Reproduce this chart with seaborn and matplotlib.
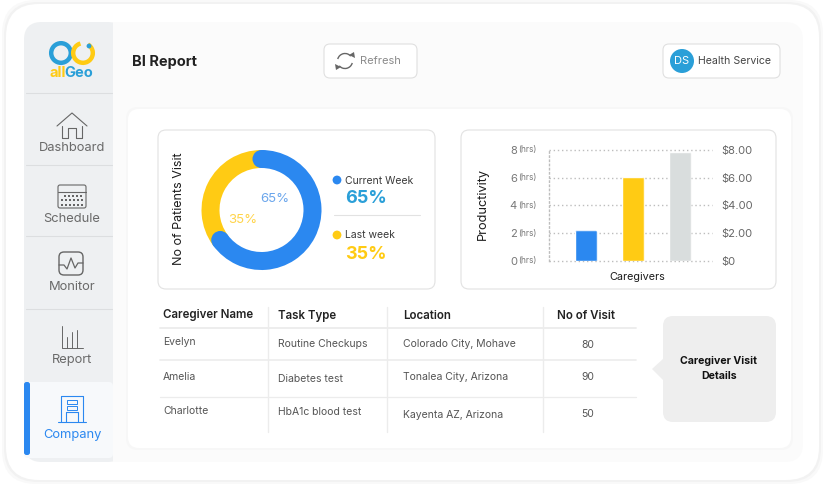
import numpy as np
import matplotlib
matplotlib.use("Agg")
import matplotlib.pyplot as plt
import seaborn as sns
from matplotlib.patches import Arc, Circle, FancyBboxPatch, Polygon, Rectangle

# data
visit_labels = ["Current Week", "Last week"]
visit_share = [65, 35]
caregivers = ["Evelyn", "Amelia", "Charlotte"]
productivity_hours = [2.2, 6.05, 7.85]
hour_ticks = [0, 2, 4, 6, 8]
cost_labels = ["$0", "$2.00", "$4.00", "$6.00", "$8.00"]
table_header = ["Caregiver Name", "Task Type", "Location", "No of Visit"]
task_types = ["Routine Checkups", "Diabetes test", "HbA1c blood test"]
locations = ["Colorado City, Mohave", "Tonalea City, Arizona", "Kayenta AZ, Arizona"]
visit_counts = [80, 90, 50]
nav_items = ["Dashboard", "Schedule", "Monitor", "Report", "Company"]

BLUE = "#2b88f0"
YELLOW = "#ffcb14"
GREY_BAR = "#d9dddd"
TEAL = "#2a9fd8"
ICON = "#666666"
FONT = "Inter"

W, H = 826, 490

sns.set_theme(style="white")
plt.rcParams["font.family"] = [FONT, "DejaVu Sans"]

fig = plt.figure(figsize=(W / 100, H / 100), dpi=100, facecolor="white")
bg = fig.add_axes([0, 0, 1, 1])
bg.set_xlim(0, W)
bg.set_ylim(H, 0)
bg.axis("off")


def box(x0, y0, x1, y1, r=8, fc="white", ec="none", lw=1.0, z=1):
    p = FancyBboxPatch((x0 + r, y0 + r), x1 - x0 - 2 * r, y1 - y0 - 2 * r,
                       boxstyle=f"round,pad={r},rounding_size={r}",
                       fc=fc, ec=ec, lw=lw, zorder=z)
    bg.add_patch(p)
    return p


def label(x, y, s, size=8, color="#444444", weight="normal", ha="left", **kw):
    bg.text(x, y + 0.8, s, fontsize=size, color=color, fontweight=weight,
            ha=ha, va="center", zorder=6, **kw)


def stroke(xs, ys, color=ICON, lw=0.8):
    bg.plot(xs, ys, color=color, lw=lw, solid_capstyle="round",
            solid_joinstyle="round", zorder=5)


def px_axes(x0, y0, x1, y1):
    ax = fig.add_axes([x0 / W, 1 - y1 / H, (x1 - x0) / W, (y1 - y0) / H])
    ax.patch.set_alpha(0)
    return ax


# shell, soft edges
for grow, col in ((3, "#f9f9f9"), (1, "#f2f2f2")):
    box(5 - grow, 3 - grow, 820 + grow, 481 + grow, r=34, fc=col, z=0)
box(6, 4, 819, 480, r=33, fc="white", z=0.5)

# panel, header and sidebar
box(24, 22, 803, 462, r=18, fc="#fbfbfb", z=1)
box(24, 22, 125, 462, r=18, fc="#eef0f2", z=1.1)
bg.add_patch(Rectangle((113, 22), 14, 440, fc="#fbfbfb", ec="none", zorder=1.2))
box(126, 107, 793, 450, r=12, fc="#f7f7f7", z=1.3)
box(128, 109, 791, 448, r=11, fc="white", z=1.4)

for y in (93, 165, 236, 309):
    bg.plot([26, 112], [y, y], color="#dcdee0", lw=0.8, zorder=2)

box(24, 382, 113, 458, r=4, fc="#f7f9fb", z=2)
box(24, 382, 30, 455, r=2.5, fc=BLUE, z=3)

# logo
bg.add_patch(Circle((61, 53), 9.8, fc="none", ec=TEAL, lw=3.2, zorder=4))
bg.add_patch(Arc((83, 53), 19.6, 19.6, theta1=-60, theta2=255, ec=YELLOW, lw=3.2, zorder=4))
bg.add_patch(Circle((89, 46), 2.4, fc=TEAL, ec="none", zorder=5))
bg.text(49, 73, "all", fontsize=10.5, fontweight="bold", color=YELLOW, va="center", zorder=5)
bg.text(64.5, 73, "Geo", fontsize=10.5, fontweight="bold", color=TEAL, va="center", zorder=5)

# nav icons
stroke([57, 72, 87], [126, 113, 126])
stroke([62, 62, 68, 68, 76, 76, 82, 82], [126, 138, 138, 128, 128, 138, 138, 126])

box(58, 185, 86, 208, r=2, fc="none", ec=ICON, lw=0.8, z=5)
stroke([58, 86], [192, 192], lw=0.8)
for row, y in enumerate((196, 200, 205)):
    for x in range(64 if row == 0 else 61, 84, 4):
        bg.add_patch(Rectangle((x, y - 0.8), 1.7, 1.7, fc=ICON, ec="none", zorder=5))

box(59, 252, 83, 275, r=5, fc="none", ec=ICON, lw=1.0, z=5)
stroke([59, 64, 67, 71, 75, 78, 83], [265, 265, 269, 258, 268, 263, 263], lw=0.9)

stroke([62, 62, 83], [326, 348, 348], lw=0.7)
stroke([67, 67], [337, 348], lw=0.7)
stroke([72, 72], [332, 348], lw=0.7)
stroke([77, 77], [330, 348], lw=0.7)

stroke([58, 86], [422, 422], color=BLUE)
stroke([61, 61, 83, 83], [422, 396, 396, 422], color=BLUE)
bg.add_patch(Rectangle((67, 400), 10, 4, fc="none", ec=BLUE, lw=0.7, zorder=5))
bg.add_patch(Rectangle((67, 405.5), 10, 4, fc="none", ec=BLUE, lw=0.7, zorder=5))
stroke([66, 66, 78, 78], [422, 412, 412, 422], color=BLUE)

nav_y = [147, 218, 286, 359, 434]
for name, y in zip(nav_items, nav_y):
    label(72, y, name, size=9.3, color=BLUE if name == "Company" else "#6a6a6a", ha="center")

# header
label(132, 61, "BI Report", size=10.5, color="#222222", weight="bold")
box(324, 44, 417, 78, r=6, fc="white", ec="#e0e0e0", lw=0.8, z=3)
label(360, 60.5, "Refresh", size=8, color="#8a8a8a")
bg.add_patch(Arc((345, 61), 15, 15, theta1=195, theta2=320, ec=ICON, lw=1.0, zorder=5))
bg.add_patch(Arc((345, 61), 15, 15, theta1=15, theta2=140, ec=ICON, lw=1.0, zorder=5))
bg.add_patch(Polygon([[349, 55], [354, 52], [355, 58]], fc=ICON, ec="none", zorder=5))
bg.add_patch(Polygon([[341, 67], [336, 70], [335, 64]], fc=ICON, ec="none", zorder=5))

box(663, 44, 780, 78, r=6, fc="white", ec="#e0e0e0", lw=0.8, z=3)
bg.add_patch(Circle((682, 61), 12, fc=TEAL, ec="none", zorder=5))
label(682, 60.5, "DS", size=8, color="white", ha="center")
label(698, 60.5, "Health Service", size=7.6, color="#444444")

# chart cards
box(158, 130, 435, 289, r=8, fc="white", ec="#e2e2e2", lw=0.8, z=3)
box(461, 130, 776, 289, r=8, fc="white", ec="#e2e2e2", lw=0.8, z=3)

# donut
pie_ax = px_axes(201.5, 150, 321.5, 270)
pie_ax.set_zorder(4)
wedges, _ = pie_ax.pie(visit_share, colors=[BLUE, YELLOW], startangle=90, counterclock=False,
                       radius=1.0, wedgeprops={"width": 0.3, "linewidth": 0})
pie_ax.set_xlim(-1, 1)
pie_ax.set_ylim(-1, 1)
for ang in (90, 90 - 360 * visit_share[0] / sum(visit_share)):
    a = np.deg2rad(ang)
    pie_ax.add_patch(Circle((0.85 * np.cos(a), 0.85 * np.sin(a)), 0.15, fc=BLUE, ec="none", zorder=3))

label(179, 208, "No of Patients Visit", size=9, color="#1c1c1c", ha="center", rotation=90)
label(275, 198, f"{visit_share[0]}%", size=9.5, color="#6ba6ec", ha="center")
label(243, 219.5, f"{visit_share[1]}%", size=9.5, color="#ffd44a", ha="center")

bg.add_patch(Circle((337, 180), 4.4, fc=BLUE, ec="none", zorder=5))
label(345, 180, visit_labels[0], size=7.5, color="#3a3a3a")
label(345, 197.5, f"{visit_share[0]}%", size=13, color=TEAL, weight="bold")
bg.plot([334, 420], [215, 215], color="#e2e2e2", lw=0.8, zorder=5)
bg.add_patch(Circle((337, 235), 4.4, fc=YELLOW, ec="none", zorder=5))
label(345, 234, visit_labels[1], size=7.5, color="#3a3a3a")
label(345, 253.5, f"{visit_share[1]}%", size=13, color=YELLOW, weight="bold")

# bars
bar_ax = px_axes(549, 150, 712, 261)
bar_ax.set_zorder(4)
sns.barplot(x=caregivers, y=productivity_hours, hue=caregivers, order=caregivers, saturation=1,
            palette=[BLUE, YELLOW, GREY_BAR], width=0.48, legend=False, ax=bar_ax, zorder=3)
bar_ax.set_xlim(-0.787, 2.68)
bar_ax.set_ylim(0, 8)
bar_ax.set_xticks([])
bar_ax.set_xlabel("")
bar_ax.set_yticks(hour_ticks)
bar_ax.set_yticklabels([str(t) for t in hour_ticks], fontsize=8, color="#777777")
bar_ax.tick_params(axis="y", length=0, pad=23)
bar_ax.grid(axis="y", color="#bdbdbd", lw=1, ls=(0, (1, 2)), clip_on=False)
bar_ax.set_axisbelow(True)
for side in ("top", "right", "bottom"):
    bar_ax.spines[side].set_visible(False)
bar_ax.spines["left"].set_color("#bdbdbd")
bar_ax.spines["left"].set_linewidth(1)
bar_ax.spines["left"].set_linestyle((0, (1, 2)))
for bar in bar_ax.patches:
    # rounded tops only
    clip = FancyBboxPatch((bar.get_x(), -1), bar.get_width(), bar.get_height() + 1,
                          boxstyle="round,pad=0,rounding_size=0.05", mutation_aspect=3.4,
                          transform=bar_ax.transData)
    bar.set_clip_path(clip)
for t in hour_ticks:
    bar_ax.annotate("(hrs)", (0, t), xycoords=bar_ax.get_yaxis_transform(), xytext=(-22, 0),
                    textcoords="offset pixels", fontsize=6, color="#777777", ha="center",
                    va="center", annotation_clip=False)

cost_ax = bar_ax.twinx()
cost_ax.patch.set_alpha(0)
cost_ax.set_ylim(0, 8)
cost_ax.set_yticks(hour_ticks)
cost_ax.set_yticklabels(cost_labels, fontsize=8, color="#666666")
cost_ax.tick_params(axis="y", length=0, pad=6.5)
cost_ax.grid(False)
for spine in cost_ax.spines.values():
    spine.set_visible(False)

label(483, 203, "Productivity", size=9.2, color="#1c1c1c", ha="center", rotation=90)
label(637, 276, "Caregivers", size=7.8, color="#1c1c1c", ha="center")

# table
for x in (268, 387, 543):
    bg.plot([x, x], [307, 432], color="#ececec", lw=1.0, zorder=3)
for y, lw in ((328, 1.3), (360, 1.2), (397, 0.9)):
    bg.plot([160, 636], [y, y], color="#ececec", lw=lw, zorder=3)

header_x = [163, 278, 403, 557]
header_y = [315, 316, 316, 316]
for x, y, s in zip(header_x, header_y, table_header):
    label(x, y - 0.5, s, size=8.3, color="#222222", weight="semibold")

name_y = [342, 377, 411]
task_y = [344, 379, 412]
loc_y = [344, 377, 415]
count_y = [345, 377, 414]
for i in range(3):
    label(163, name_y[i] - 0.5, caregivers[i], size=7.5, color="#555555")
    label(278, task_y[i] - 0.5, task_types[i], size=7.5, color="#555555")
    label(403, loc_y[i] - 0.5, locations[i], size=7.5, color="#555555")
    label(588, count_y[i] - 0.5, str(visit_counts[i]), size=7.5, color="#555555", ha="center")

# callout
box(663, 316, 776, 422, r=10, fc="#eeeeee", z=3)
bg.add_patch(Polygon([[664, 358], [652, 369], [664, 381]], fc="#eeeeee", ec="none", zorder=3))
label(719, 360, "Caregiver Visit", size=7.6, color="#111111", weight="bold", ha="center")
label(719, 375, "Details", size=7.6, color="#111111", weight="bold", ha="center")

fig.savefig("out.png", dpi=100)
